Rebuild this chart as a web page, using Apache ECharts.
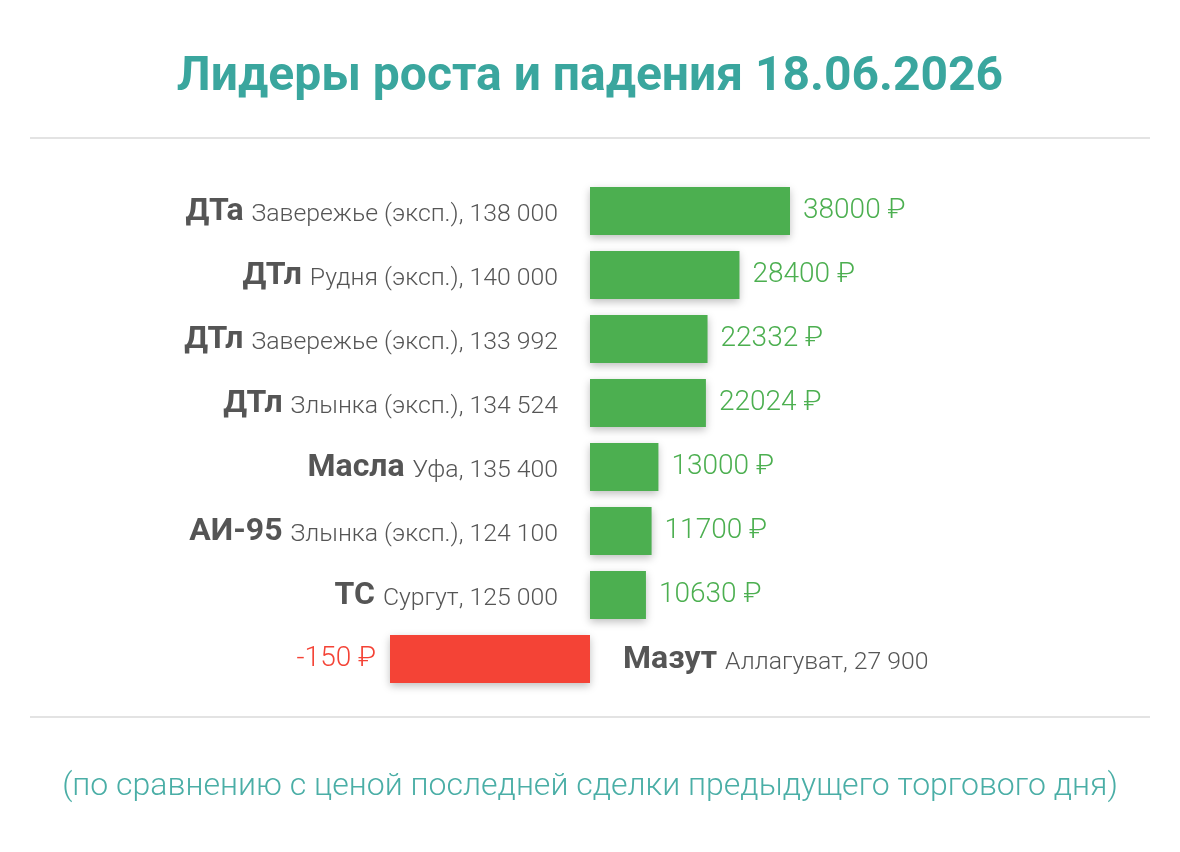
<!DOCTYPE html>
<html><head><meta charset="utf-8">
<script src="https://cdn.jsdelivr.net/npm/echarts@6/dist/echarts.min.js"></script>
<style>html,body{margin:0;padding:0;background:#fff}#c{width:1180px;height:852px}</style>
</head><body><div id="c"></div>
<script>
const products = ['ДТа', 'ДТл', 'ДТл', 'ДТл', 'Масла', 'АИ-95', 'ТС', 'Мазут'];
const places = ['Завережье (эксп.)', 'Рудня (эксп.)', 'Завережье (эксп.)', 'Злынка (эксп.)', 'Уфа', 'Злынка (эксп.)', 'Сургут', 'Аллагуват'];
const prices = ['138 000', '140 000', '133 992', '134 524', '135 400', '124 100', '125 000', '27 900'];
const changes = [38000, 28400, 22332, 22024, 13000, 11700, 10630, -150];
const titleText = 'Лидеры роста и падения 18.06.2026';
const noteText = '(по сравнению с ценой последней сделки предыдущего торгового дня)';

const cats = products.map((p, i) => i);
const posData = changes.map(v => v >= 0 ? v : '-');
const negData = changes.map(v => v < 0 ? v : '-');
const posMax = Math.max(...changes.filter(v => v >= 0));
const negMax = Math.max(...changes.filter(v => v < 0).map(v => -v));

const FONT = 'Roboto';
const rich = {
  b: {fontFamily: FONT, fontSize: 32, fontWeight: 'bold', color: '#555', verticalAlign: 'bottom', lineHeight: 34},
  n: {fontFamily: FONT, fontSize: 24.8, fontWeight: 300, color: '#555', verticalAlign: 'bottom', lineHeight: 34, padding: [0, 0, 1, 8]}
};
const lab = i => '{b|' + products[i] + '}{n|' + places[i] + ', ' + prices[i] + '}';

const chart = echarts.init(document.getElementById('c'));
chart.setOption({
  backgroundColor: '#fff',
  animation: false,
  title: [
    {text: titleText, left: 'center', top: 49, textStyle: {fontFamily: FONT, fontSize: 48, fontWeight: 'bold', color: '#3aa69e'}},
    {text: noteText, left: 'center', top: 766, textStyle: {fontFamily: FONT, fontSize: 32, fontWeight: 300, color: '#4aaea6'}}
  ],
  graphic: [
    {type: 'line', shape: {x1: 30, y1: 138, x2: 1150, y2: 138}, style: {stroke: '#e3e3e3', lineWidth: 2}},
    {type: 'line', shape: {x1: 30, y1: 717, x2: 1150, y2: 717}, style: {stroke: '#e3e3e3', lineWidth: 2}}
  ],
  grid: {left: 390, right: 390, top: 179, bottom: 161, containLabel: false},
  xAxis: [
    {type: 'value', min: -posMax, max: posMax, show: false},
    {type: 'value', min: -negMax, max: negMax, show: false}
  ],
  yAxis: [
    {type: 'category', data: cats, inverse: true, position: 'left', offset: -200,
     axisLine: {show: false, onZero: false}, axisTick: {show: false}, splitLine: {show: false},
     axisLabel: {margin: 32, rich: rich, formatter: (v, i) => changes[i] >= 0 ? lab(i) : ''}},
    {type: 'category', data: cats, inverse: true, position: 'right', offset: -200,
     axisLine: {show: false, onZero: false}, axisTick: {show: false}, splitLine: {show: false},
     axisLabel: {margin: 33, rich: rich, formatter: (v, i) => changes[i] < 0 ? lab(i) : ''}}
  ],
  series: [
    {type: 'bar', xAxisIndex: 0, yAxisIndex: 0, data: posData, barWidth: 48, barGap: '-100%',
     itemStyle: {color: '#4caf50', shadowBlur: 8, shadowColor: 'rgba(0,0,0,0.25)', shadowOffsetY: 3},
     label: {show: true, position: 'right', distance: 13, fontFamily: FONT, fontSize: 28, fontWeight: 300, color: '#4caf50',
             padding: [2, 0, 0, 0], formatter: p => p.value + ' ₽'}},
    {type: 'bar', xAxisIndex: 1, yAxisIndex: 0, data: negData, barWidth: 48, barGap: '-100%',
     itemStyle: {color: '#f44336', shadowBlur: 8, shadowColor: 'rgba(0,0,0,0.25)', shadowOffsetY: 3},
     label: {show: true, position: 'left', distance: 14, fontFamily: FONT, fontSize: 28, fontWeight: 300, color: '#f44336',
             padding: [2, 0, 0, 0], formatter: p => p.value + ' ₽'}}
  ]
});
</script></body></html>
